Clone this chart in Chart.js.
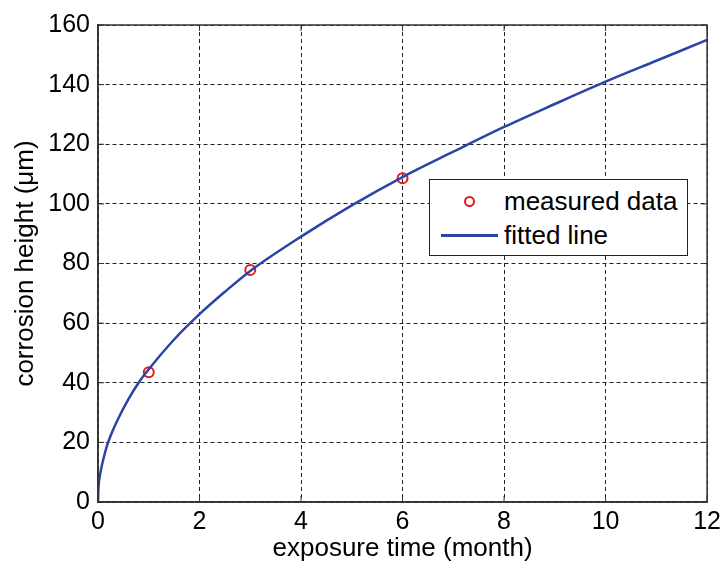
<!DOCTYPE html>
<html>
<head>
<meta charset="utf-8">
<title>corrosion height</title>
<script src="https://cdn.jsdelivr.net/npm/chart.js@4/dist/chart.umd.min.js"></script>
<style>
    body { margin: 0; background: #fff; }
    #wrap { position: relative; width: 726px; height: 564px; }
    #legend {
        position: absolute; left: 429px; top: 179px; width: 257px; height: 75px;
        border: 1px solid #222; background: #fff;
        font-family: "Liberation Sans", Arial, sans-serif; font-size: 26px; color: #000;
    }
    .row { position: absolute; left: 0; height: 30px; line-height: 30px; }
    .row span.txt { position: absolute; left: 74px; white-space: nowrap; }
    .mark { position: absolute; left: 34px; top: 10px; width: 7px; height: 7px; border: 2px solid #e8191c; border-radius: 50%; }
    .line { position: absolute; left: 11px; top: 14px; width: 57px; height: 3px; background: #2b44a6; }
</style>
</head>
<body>
<div id="wrap">
    <canvas id="chart" width="726" height="564"></canvas>
    <div id="legend">
        <div class="row" style="top:6px"><div class="mark"></div><span class="txt">measured data</span></div>
        <div class="row" style="top:40px"><div class="line"></div><span class="txt">fitted line</span></div>
    </div>
</div>
<script>
// measured points (month, um)
const measuredTime = [1, 3, 6];
const measuredHeight = [43.5, 77.8, 108.6];

// fitted curve
const fitTime = [0, 0.01, 0.03, 0.06, 0.1, 0.17, 0.25, 0.4, 0.6, 0.8, 1, 1.5, 2, 2.5, 3, 4, 5, 6, 7, 8, 9, 10, 11, 12];
const fitHeight = [0, 5, 8, 11, 14, 18.5, 22.3, 28, 34.5, 40, 44.5, 54.5, 63, 70.5, 77.5, 89, 99.5, 109, 117.5, 125.8, 133.5, 141, 148, 155];

const xTicks = [0, 2, 4, 6, 8, 10, 12];
const yTicks = [0, 20, 40, 60, 80, 100, 120, 140, 160];

const FONT = '"Liberation Sans", Arial, sans-serif';

// box around the plot plus inward tick marks, like the original
const frame = {
    id: 'frame',
    afterDraw(chart) {
        const { ctx, chartArea: a, scales } = chart;
        ctx.save();
        ctx.strokeStyle = '#333';
        ctx.lineWidth = 1.5;
        ctx.strokeRect(a.left, a.top, a.right - a.left, a.bottom - a.top);
        ctx.lineWidth = 1;
        ctx.beginPath();
        xTicks.forEach(v => {
            const x = scales.x.getPixelForValue(v);
            ctx.moveTo(x, a.bottom); ctx.lineTo(x, a.bottom - 6);
            ctx.moveTo(x, a.top); ctx.lineTo(x, a.top + 6);
        });
        yTicks.forEach(v => {
            const y = scales.y.getPixelForValue(v);
            ctx.moveTo(a.left, y); ctx.lineTo(a.left + 6, y);
            ctx.moveTo(a.right, y); ctx.lineTo(a.right - 6, y);
        });
        ctx.stroke();
        ctx.restore();
    }
};

new Chart(document.getElementById('chart'), {
    type: 'scatter',
    data: {
        datasets: [{
            label: 'fitted line',
            data: fitTime.map((t, i) => ({ x: t, y: fitHeight[i] })),
            showLine: true,
            borderColor: '#2b44a6',
            borderWidth: 2.5,
            pointRadius: 0,
            cubicInterpolationMode: 'monotone',
            order: 0
        }, {
            label: 'measured data',
            data: measuredTime.map((t, i) => ({ x: t, y: measuredHeight[i] })),
            pointStyle: 'circle',
            pointRadius: 5,
            borderWidth: 2,
            borderColor: '#e8191c',
            backgroundColor: 'rgba(0,0,0,0)',
            order: 1
        }]
    },
    options: {
        responsive: false,
        animation: false,
        layout: { padding: { top: 25, right: 16, left: 0, bottom: 0 } },
        plugins: {
            legend: { display: false },
            tooltip: { enabled: false }
        },
        scales: {
            x: {
                type: 'linear',
                min: 0,
                max: 12,
                afterBuildTicks: s => { s.ticks = xTicks.map(v => ({ value: v })); },
                afterFit: s => { s.height = 62; },
                grid: { color: '#222', lineWidth: 1, drawTicks: false },
                border: { color: '#333', width: 1.5, dash: [4, 3] },
                ticks: { color: '#000', font: { family: FONT, size: 25 }, padding: 5, maxRotation: 0 },
                title: {
                    display: true,
                    text: 'exposure time (month)',
                    color: '#000',
                    font: { family: FONT, size: 26 },
                    padding: { top: 0, bottom: 0 }
                }
            },
            y: {
                type: 'linear',
                min: 0,
                max: 160,
                afterBuildTicks: s => { s.ticks = yTicks.map(v => ({ value: v })); },
                afterFit: s => { s.width = 98; },
                grid: { color: '#222', lineWidth: 1, drawTicks: false },
                border: { color: '#333', width: 1.5, dash: [4, 3] },
                ticks: { color: '#000', font: { family: FONT, size: 25 }, padding: 8 },
                title: {
                    display: true,
                    text: 'corrosion height (μm)',
                    color: '#000',
                    font: { family: FONT, size: 26 },
                    padding: { top: 10, bottom: 0 }
                }
            }
        }
    },
    plugins: [frame]
});
</script>
</body>
</html>
